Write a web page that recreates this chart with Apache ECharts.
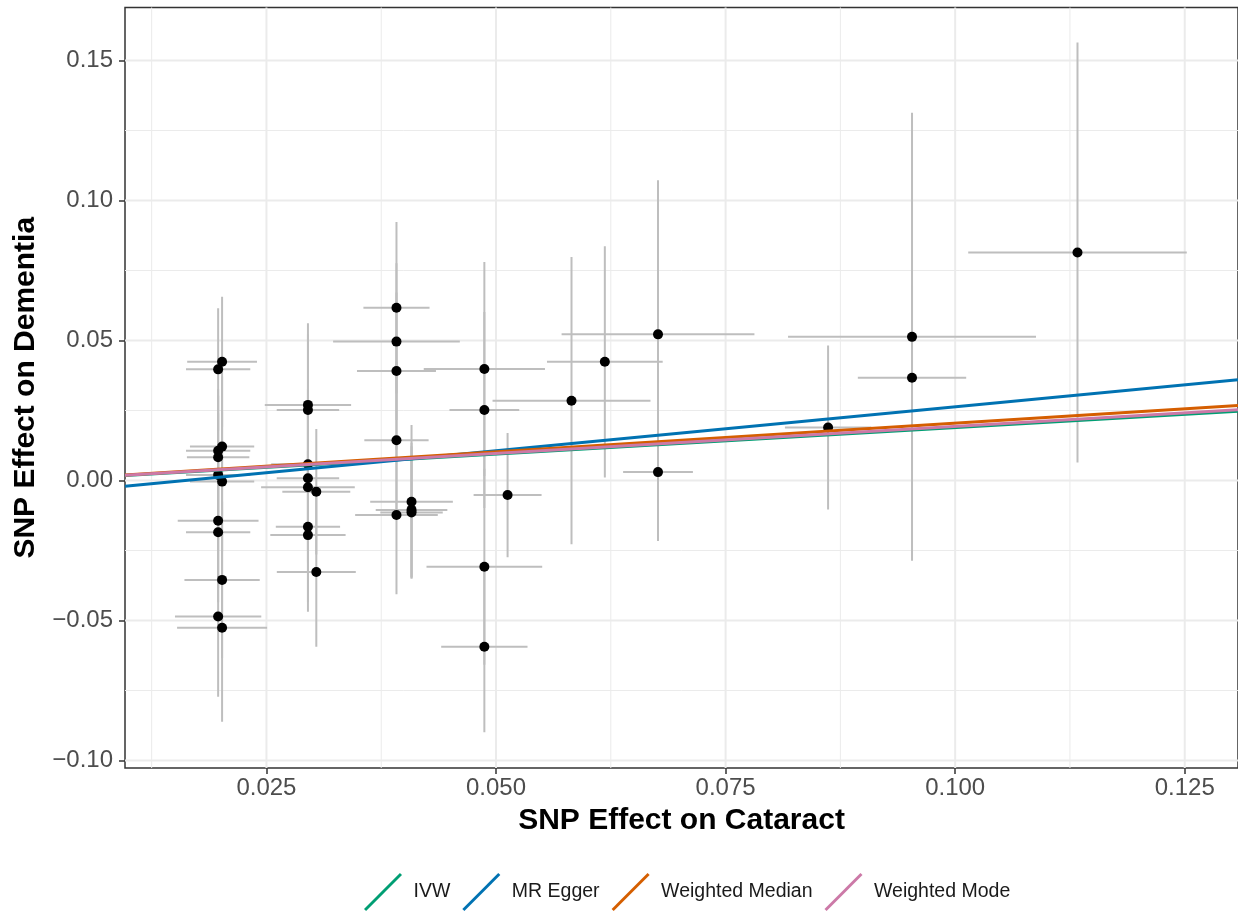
<!DOCTYPE html>
<html><head><meta charset="utf-8">
<script src="https://cdn.jsdelivr.net/npm/echarts@6/dist/echarts.min.js"></script>
<style>html,body{margin:0;padding:0;background:#fff}#c{width:1238px;height:912px}</style>
</head><body><div id="c"></div>
<script>
// ---- data ----
const snpX = [0.02017,0.01974,0.02017,0.01974,0.01974,0.01974,0.02017,0.01974,0.01974,0.02017,0.01974,0.02017,
  0.02952,0.02952,0.02952,0.02952,0.02952,0.03043,0.02952,0.02952,0.03043,
  0.03916,0.03916,0.03916,0.03916,0.0408,0.0408,0.0408,0.03916,
  0.04873,0.04873,0.04873,0.04873,0.05126,0.05822,0.06185,0.06764,0.06764,0.08616,0.0953,0.0953,0.11332];
const snpY = [0.0424,0.0397,0.0121,0.0106,0.0083,0.0020,-0.0004,-0.0144,-0.0185,-0.0355,-0.0486,-0.0526,
  0.0270,0.0252,0.0058,0.0008,-0.0024,-0.0040,-0.0165,-0.0195,-0.0327,
  0.0617,0.0496,0.0391,0.0144,-0.0076,-0.0105,-0.0114,-0.0123,
  0.0398,0.0252,-0.0308,-0.0594,-0.0052,0.0285,0.0424,0.0522,0.0030,0.0189,0.0513,0.0367,0.0814];
const seX = [0.0038,0.0035,0.0035,0.0035,0.0034,0.0035,0.0035,0.0044,0.0035,0.0041,0.0047,0.0049,
  0.0047,0.0034,0.0040,0.0034,0.0051,0.0037,0.0035,0.0041,0.0043,
  0.0036,0.0069,0.0043,0.0035,0.0045,0.0039,0.0034,0.0045,
  0.0066,0.0038,0.0063,0.0047,0.0037,0.0086,0.0063,0.0105,0.0038,0.0047,0.0135,0.0059,0.0119];
const seY = [0.0232,0.0218,0.025,0.022,0.022,0.022,0.025,0.024,0.025,0.028,0.0286,0.0336,
  0.0292,0.027,0.027,0.026,0.027,0.0224,0.027,0.0274,0.0267,
  0.0306,0.028,0.028,0.028,0.0274,0.024,0.0236,0.0283,
  0.0382,0.035,0.035,0.0305,0.0222,0.0513,0.0413,0.055,0.0246,0.0293,0.080,0.033,0.075];
const methods = ['IVW','MR Egger','Weighted Median','Weighted Mode'];
const methodIntercept = [0, -0.00504, 0, 0];
const methodSlope = [0.189, 0.3135, 0.205, 0.193];
const xTicks = [0.025,0.05,0.075,0.1,0.125];
const xTickLabels = ['0.025','0.050','0.075','0.100','0.125'];
const xMinor = [0.0125,0.0375,0.0625,0.0875,0.1125];
const yTicks = [-0.10,-0.05,0,0.05,0.10,0.15];
const yTickLabels = ['\u22120.10','\u22120.05','0.00','0.05','0.10','0.15'];
const yMinor = [-0.075,-0.025,0.025,0.075,0.125];
const xTitle = 'SNP Effect on Cataract';
const yTitle = 'SNP Effect on Dementia';

// ---- styling / layout ----
const methodColors = ['#009E73','#0072B2','#D55E00','#CC79A7'];
const FONT = '"Liberation Sans", Arial, Helvetica, sans-serif';
const X_MIN = 0.009598, X_MAX = 0.130798, Y_MIN = -0.102679, Y_MAX = 0.168929;

function lbl(ticks, labels) {
  return v => { const i = ticks.findIndex(t => Math.abs(t - v) < 1e-9); return i >= 0 ? labels[i] : ''; };
}

const gridData = [];
xTicks.forEach(v => gridData.push([v, 0, 1]));
xMinor.forEach(v => gridData.push([v, 0, 0]));
yTicks.forEach(v => gridData.push([v, 1, 1]));
yMinor.forEach(v => gridData.push([v, 1, 0]));

const pts = snpX.map((x, i) => [x, snpY[i], seX[i], seY[i]]);

const chart = echarts.init(document.getElementById('c'), null, {renderer: 'canvas'});
const series = [
  {
    type: 'custom', name: 'gridlines', silent: true, z: 0,
    data: gridData, encode: {x: 0, y: 0},
    renderItem: function (params, api) {
      const cs = params.coordSys;
      const v = api.value(0), dir = api.value(1), major = api.value(2);
      const style = {stroke: '#EBEBEB', lineWidth: major ? 2 : 1};
      if (dir === 0) {
        const p = api.coord([v, 0]);
        return {type: 'line', shape: {x1: p[0], y1: cs.y, x2: p[0], y2: cs.y + cs.height}, style};
      } else {
        const p = api.coord([X_MIN, v]);
        return {type: 'line', shape: {x1: cs.x, y1: p[1], x2: cs.x + cs.width, y2: p[1]}, style};
      }
    }
  },
  {
    type: 'custom', name: 'errorbars', silent: true, z: 2, clip: true,
    data: pts, encode: {x: 0, y: 1},
    renderItem: function (params, api) {
      const x = api.value(0), y = api.value(1), sx = api.value(2), sy = api.value(3);
      const h1 = api.coord([x - sx, y]), h2 = api.coord([x + sx, y]);
      const v1 = api.coord([x, y - sy]), v2 = api.coord([x, y + sy]);
      const st = {stroke: '#BEBEBE', lineWidth: 2};
      return {type: 'group', children: [
        {type: 'line', shape: {x1: h1[0], y1: h1[1], x2: h2[0], y2: h2[1]}, style: st},
        {type: 'line', shape: {x1: v1[0], y1: v1[1], x2: v2[0], y2: v2[1]}, style: st}
      ]};
    }
  },
  {
    type: 'scatter', name: 'SNPs', z: 3, silent: true,
    data: pts.map(p => [p[0], p[1]]),
    symbol: 'circle', symbolSize: 10,
    itemStyle: {color: '#000000', opacity: 1}
  }
];
methods.forEach((m, i) => {
  series.push({
    type: 'line', name: m, z: 4 + i, silent: true, clip: true,
    symbol: 'none', animation: false,
    data: [[X_MIN, methodIntercept[i] + methodSlope[i] * X_MIN], [X_MAX, methodIntercept[i] + methodSlope[i] * X_MAX]],
    lineStyle: {color: methodColors[i], width: 3},
    itemStyle: {color: methodColors[i]}
  });
});

chart.setOption({
  animation: false,
  backgroundColor: '#ffffff',
  textStyle: {fontFamily: FONT},
  grid: {left: 125, right: -2, top: 7.5, bottom: 144, show: true, borderColor: '#333333', borderWidth: 1.5, backgroundColor: 'transparent', containLabel: false},
  xAxis: {
    type: 'value', min: X_MIN, max: X_MAX,
    name: xTitle, nameLocation: 'middle', nameGap: 38,
    nameTextStyle: {fontSize: 30, fontWeight: 'bold', color: '#000000', fontFamily: FONT},
    axisLine: {show: false, onZero: false},
    axisTick: {show: true, length: 6, customValues: xTicks, lineStyle: {color: '#333333', width: 1.5}},
    axisLabel: {customValues: xTicks, formatter: lbl(xTicks, xTickLabels), fontSize: 24, color: '#4D4D4D', margin: 8, fontFamily: FONT},
    splitLine: {show: false}, minorSplitLine: {show: false}
  },
  yAxis: {
    type: 'value', min: Y_MIN, max: Y_MAX,
    name: yTitle, nameLocation: 'middle', nameGap: 84, nameRotate: 90,
    nameTextStyle: {fontSize: 30, fontWeight: 'bold', color: '#000000', fontFamily: FONT},
    axisLine: {show: false, onZero: false},
    axisTick: {show: true, length: 6, customValues: yTicks, lineStyle: {color: '#333333', width: 1.5}},
    axisLabel: {customValues: yTicks, formatter: lbl(yTicks, yTickLabels), fontSize: 24, color: '#4D4D4D', margin: 12, fontFamily: FONT},
    splitLine: {show: false}, minorSplitLine: {show: false}
  },
  legend: {
    data: methods, orient: 'horizontal', left: 359, top: 868,
    icon: 'path://M0,36.5 L36.5,0 L38.6,2.1 L2.1,38.6 Z',
    itemWidth: 39, itemHeight: 38, itemGap: 12,
    textStyle: {fontSize: 19.5, color: '#1A1A1A', fontFamily: FONT, padding: [0, 0, 0, 6]},
    selectedMode: false
  },
  series: series
});
</script>
</body></html>
